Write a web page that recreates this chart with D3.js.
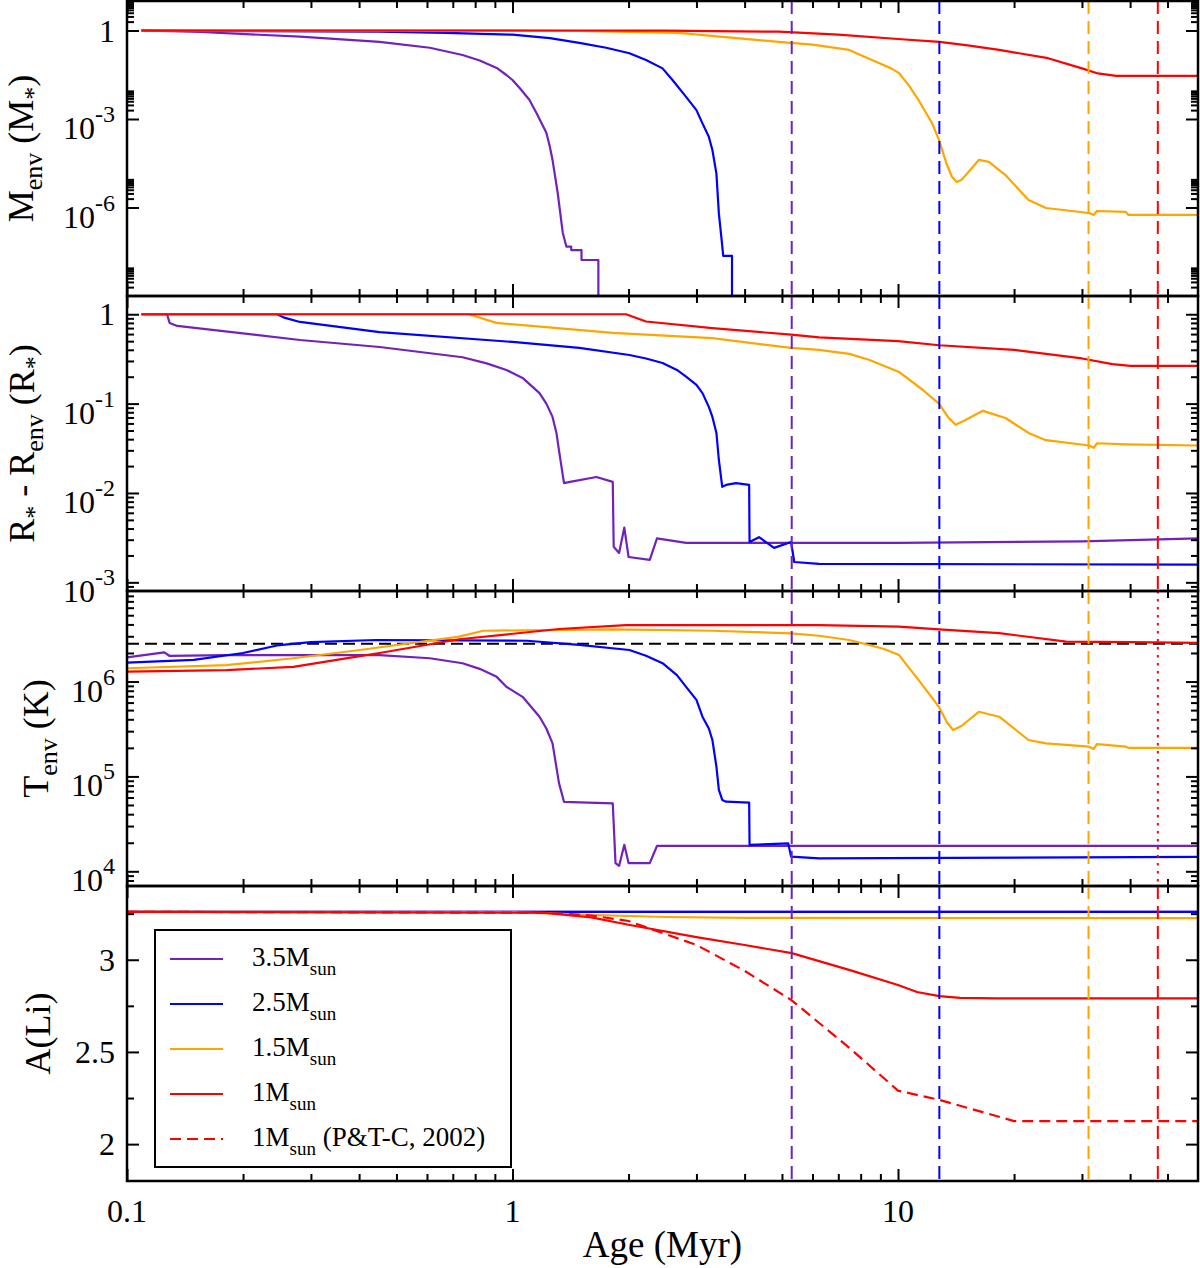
<!DOCTYPE html>
<html>
<head>
<meta charset="utf-8">
<script src="https://cdn.jsdelivr.net/npm/d3@7"></script>
<style>
    body { margin: 0; background: #fff; }
    text { font-family: 'Liberation Serif', 'Times New Roman', serif; fill: #000; }
</style>
</head>
<body>
<svg id="chart"></svg>
<script>
// series order: 3.5, 2.5, 1.5, 1 Msun
const colors = ['#7221bc', '#0000ff', '#ffa500', '#ff0000']
const legendLabels = ['3.5M', '2.5M', '1.5M', '1M', '1M']

// [age (Myr), value]
// panel 1: M_env (M*)
const menv35 = [[0.109,1],[0.155,0.89],[0.281,0.62],[0.452,0.41],[0.61,0.26],[0.742,0.148],[0.822,0.096],[0.91,0.054],[0.964,0.031],[1.0,0.021],[1.045,0.011],[1.107,4.4e-3],[1.16,1.4e-3],[1.224,3.4e-4],[1.25,1.15e-4],[1.27,4.1e-5],[1.31,3.1e-6],[1.35,1.4e-7],[1.38,4.7e-8],[1.42,4.7e-8],[1.42,3.6e-8],[1.51,3.6e-8],[1.51,1.66e-8],[1.67,1.66e-8],[1.67,1e-12]]
const menv25 = [[0.109,1],[0.2,0.95],[0.452,0.91],[0.67,0.83],[1.0,0.72],[1.25,0.55],[1.49,0.38],[1.75,0.26],[2.01,0.17],[2.22,0.1],[2.45,0.052],[2.6,0.021],[2.82,5.6e-3],[3.0,2.0e-3],[3.11,7.1e-4],[3.23,2.5e-4],[3.30,8.9e-5],[3.38,1.4e-5],[3.43,6.3e-7],[3.50,5e-8],[3.52,2.3e-8],[3.71,2.3e-8],[3.71,1e-12]]
const menv15 = [[0.109,1],[1.0,0.99],[1.49,0.96],[2.7,0.83],[4.9,0.41],[6.0,0.33],[7.47,0.22],[8.41,0.11],[9.2,0.066],[9.6,0.052],[10.06,0.036],[10.7,0.013],[11.3,4.4e-3],[12.25,7.3e-4],[12.77,1.95e-4],[13.4,2.75e-5],[13.8,1.1e-5],[14.2,7.3e-6],[14.6,8.5e-6],[15.0,1.26e-5],[16.2,4.1e-5],[17.2,3.5e-5],[19.0,1.26e-5],[21.8,1.8e-6],[24.2,9.6e-7],[31.3,6.5e-7],[32.2,5.6e-7],[32.8,7.6e-7],[39.0,7.1e-7],[39.6,5.6e-7],[60,5.6e-7]]
const menv10 = [[0.109,1],[1.5,1],[2.5,0.99],[4.9,0.91],[7,0.72],[10,0.515],[12.8,0.41],[15,0.32],[18.3,0.22],[24.5,0.115],[30,0.052],[33,0.035],[36.8,0.029],[60,0.029]]

// panel 2: R* - R_env (R*)
const r35 = [[0.109,1],[0.127,1],[0.129,0.8],[0.135,0.74],[0.281,0.515],[0.452,0.43],[0.742,0.33],[0.857,0.282],[0.964,0.238],[1.062,0.194],[1.175,0.131],[1.224,0.1],[1.27,0.071],[1.3,0.047],[1.32,0.030],[1.36,0.0129],[1.41,0.0133],[1.65,0.0151],[1.82,0.0133],[1.83,2.5e-3],[1.89,2.13e-3],[1.95,4.1e-3],[2.0,1.92e-3],[2.27,1.78e-3],[2.37,3.1e-3],[2.82,2.76e-3],[10,2.76e-3],[30,2.87e-3],[60,3.1e-3]]
const r25 = [[0.109,1],[0.245,1],[0.257,0.91],[0.281,0.82],[0.452,0.63],[1.0,0.49],[1.49,0.42],[2.01,0.35],[2.22,0.32],[2.45,0.285],[2.67,0.238],[2.82,0.2],[3.0,0.162],[3.11,0.131],[3.23,0.092],[3.30,0.071],[3.38,0.047],[3.43,0.0234],[3.50,0.0117],[3.58,0.0123],[3.80,0.0129],[4.11,0.0123],[4.12,2.83e-3],[4.36,3.2e-3],[4.77,2.43e-3],[5.28,2.83e-3],[5.38,1.69e-3],[6.24,1.61e-3],[60,1.58e-3]]
const r15 = [[0.109,1],[0.77,1],[0.908,0.8],[1.82,0.62],[3.3,0.54],[5.28,0.42],[6.24,0.4],[7.47,0.36],[8.41,0.31],[10.06,0.226],[11.6,0.142],[12.77,0.1],[13.5,0.07],[14.1,0.058],[14.8,0.064],[16.6,0.083],[19,0.069],[21.8,0.047],[24.2,0.039],[31.3,0.034],[32.2,0.032],[32.8,0.036],[39,0.035],[60,0.034]]
const r10 = [[0.109,1],[1.97,1],[2.22,0.83],[3.3,0.7],[5.28,0.59],[6.24,0.55],[10,0.5],[12.8,0.45],[20,0.4],[30,0.32],[36,0.277],[40,0.265],[60,0.264]]

// panel 3: T_env (K)
const t35 = [[0.1,1.8e6],[0.125,2.03e6],[0.129,1.86e6],[0.181,1.9e6],[0.452,1.9e6],[0.61,1.76e6],[0.742,1.56e6],[0.822,1.36e6],[0.91,1.12e6],[0.964,8.8e5],[1.062,6.9e5],[1.175,4.26e5],[1.224,3.2e5],[1.27,2.23e5],[1.32,8.5e4],[1.36,5.4e4],[1.82,5.2e4],[1.85,1.22e4],[1.89,1.14e4],[1.95,1.9e4],[2.0,1.22e4],[2.27,1.22e4],[2.37,1.85e4],[60,1.85e4]]
const t25 = [[0.1,1.58e6],[0.149,1.69e6],[0.2,2.0e6],[0.245,2.4e6],[0.3,2.6e6],[0.443,2.74e6],[1.09,2.69e6],[1.49,2.43e6],[2.01,2.15e6],[2.22,1.87e6],[2.45,1.56e6],[2.67,1.17e6],[2.82,8.8e5],[3.0,6.4e5],[3.11,4.26e5],[3.23,3.2e5],[3.3,2.42e5],[3.38,1.27e5],[3.43,7.2e4],[3.5,5.65e4],[3.58,5.42e4],[4.11,5.3e4],[4.12,1.9e4],[5.19,1.97e4],[5.28,1.43e4],[6.24,1.37e4],[60,1.42e4]]
const t15 = [[0.1,1.38e6],[0.181,1.49e6],[0.27,1.76e6],[0.402,2.15e6],[0.727,2.97e6],[0.84,3.43e6],[1.82,3.55e6],[3.3,3.43e6],[5.28,3.22e6],[6.24,3.04e6],[7.47,2.74e6],[8.41,2.43e6],[9.2,2.2e6],[10.06,1.9e6],[11.3,1.04e6],[12.77,5.4e5],[13.4,3.7e5],[13.9,3.08e5],[14.6,3.4e5],[16.2,4.8e5],[18.3,4.26e5],[21.8,2.42e5],[24.2,2.23e5],[31.3,2.06e5],[32.2,1.95e5],[32.8,2.19e5],[39,2.06e5],[39.6,2.0e5],[60,2.0e5]]
const t10 = [[0.1,1.27e6],[0.181,1.32e6],[0.27,1.43e6],[0.402,1.85e6],[0.452,2.0e6],[0.727,2.79e6],[1.32,3.58e6],[1.97,3.94e6],[6.24,3.94e6],[10.06,3.79e6],[12.77,3.55e6],[18.3,3.24e6],[27.3,2.63e6],[40,2.6e6],[60,2.56e6]]
const liBurnT = 2.5e6

// panel 4: A(Li)
const li35 = [[0.1,3.26],[60,3.26]]
const li25 = [[0.1,3.26],[60,3.26]]
const li15 = [[0.1,3.26],[1.0,3.258],[1.5,3.245],[2.5,3.232],[4,3.227],[60,3.226]]
const li10 = [[0.1,3.26],[1.2,3.255],[1.6,3.23],[2,3.19],[3,3.123],[4,3.08],[5.3,3.036],[7.5,2.944],[10,2.863],[11.2,2.825],[12.8,2.803],[14.5,2.793],[18,2.79],[60,2.79]]
const liPTC = [[0.1,3.26],[1.2,3.255],[1.6,3.24],[2,3.21],[3,3.08],[4,2.94],[5.3,2.78],[7.5,2.52],[10,2.29],[12.8,2.24],[20,2.125],[60,2.125]]

// vertical marker ages
const markerAges = [5.3, 12.8, 31.2, 47.2]

// ticks
const ageTicks = [0.1, 1, 10]
const ageDecades = [0.1, 1, 10]
const menvTicks = [1, 1e-3, 1e-6]
const menvDecades = [1e-9, 1e-6, 1e-3, 1]
const rTicks = [1, 1e-1, 1e-2, 1e-3]
const rDecades = [1e-4, 1e-3, 1e-2, 1e-1, 1]
const tTicks = [1e4, 1e5, 1e6]
const tDecades = [1e3, 1e4, 1e5, 1e6]
const liTicks = [2, 2.5, 3]
const liMinor = [2.25, 2.75, 3.25]

const width = 1200,
    height = 1268
const plotLeft = 127,
    plotRight = 1198,
    plotTop = 1,
    panelH = 295

const svg = d3.select('#chart').attr('width', width).attr('height', height)

const x = d3.scaleLog().domain([0.1, 60]).range([plotLeft, plotRight])

function minorsOf(decades, domain) {
    const out = []
    decades.forEach((d) => {
        for (let k = 2; k <= 9; k++) out.push(k * d)
    })
    return out.filter((v) => v > domain[0] * 1.0001 && v < domain[1] * 0.9999)
}

const panels = [
    {
        y: d3.scaleLog().domain([1e-9, 10]),
        series: [menv35, menv25, menv15, menv10],
        major: menvTicks,
        minor: minorsOf(menvDecades, [1e-9, 10]),
        titleX: 33,
        title: [['M', 0], ['env', 1], [' (M', 0], ['*', 1], [')', 0]],
    },
    {
        y: d3.scaleLog().domain([8e-4, 1.6]),
        series: [r35, r25, r15, r10],
        major: rTicks,
        minor: minorsOf(rDecades, [8e-4, 1.6]),
        titleX: 34,
        title: [['R', 0], ['*', 1], [' - R', 0], ['env', 1], [' (R', 0], ['*', 1], [')', 0]],
    },
    {
        y: d3.scaleLog().domain([7e3, 9e6]),
        series: [t35, t25, t15, t10],
        major: tTicks,
        minor: minorsOf(tDecades, [7e3, 9e6]),
        titleX: 48,
        title: [['T', 0], ['env', 1], [' (K)', 0]],
    },
    {
        y: d3.scaleLinear().domain([1.8, 3.4]),
        series: [li35, li25, li15, li10],
        major: liTicks,
        minor: liMinor,
        titleX: 50,
        title: [['A(Li)', 0]],
        linear: true,
    },
]

const line = (y) =>
    d3
        .line()
        .x((d) => x(d[0]))
        .y((d) => y(d[1]))

function ticks(g, axis, values, size) {
    g.call(axis.tickValues(values).tickSize(size).tickFormat(''))
    g.select('.domain').remove()
    g.selectAll('line').attr('stroke', '#000').attr('stroke-width', 2)
}

panels.forEach((p, i) => {
    const y0 = plotTop + i * panelH,
        y1 = y0 + panelH
    p.y.range([y1, y0])
    const g = svg.append('g')

    g.append('clipPath')
        .attr('id', 'clip' + i)
        .append('rect')
        .attr('x', plotLeft)
        .attr('y', y0)
        .attr('width', plotRight - plotLeft)
        .attr('height', panelH)

    const plot = g.append('g').attr('clip-path', `url(#clip${i})`)

    // horizontal Li-burning line in T_env panel
    if (i === 2) {
        plot.append('line')
            .attr('x1', plotLeft)
            .attr('x2', plotRight)
            .attr('y1', p.y(liBurnT))
            .attr('y2', p.y(liBurnT))
            .attr('stroke', '#000')
            .attr('stroke-width', 2)
            .attr('stroke-dasharray', '12,6')
    }

    p.series.forEach((s, j) => {
        plot.append('path')
            .attr('d', line(p.y)(s))
            .attr('fill', 'none')
            .attr('stroke', colors[j])
            .attr('stroke-width', 2.2)
            .attr('stroke-linejoin', 'round')
    })
    if (i === 3) {
        plot.append('path')
            .attr('d', line(p.y)(liPTC))
            .attr('fill', 'none')
            .attr('stroke', colors[3])
            .attr('stroke-width', 2.2)
            .attr('stroke-dasharray', '11,6')
    }

    // vertical markers (red one dotted in T_env panel)
    markerAges.forEach((a, j) => {
        plot.append('line')
            .attr('x1', x(a))
            .attr('x2', x(a))
            .attr('y1', y0)
            .attr('y2', y1)
            .attr('stroke', colors[j])
            .attr('stroke-width', 2)
            .attr('stroke-dasharray', i === 2 && j === 3 ? '2.5,5.5' : '13,7')
    })

    // ticks, all inward
    const xMinor = minorsOf(ageDecades, [0.1, 60])
    ticks(g.append('g').attr('transform', `translate(0,${y1})`), d3.axisBottom(x), ageTicks, -12)
    ticks(g.append('g').attr('transform', `translate(0,${y1})`), d3.axisBottom(x), xMinor, -7)
    ticks(g.append('g').attr('transform', `translate(0,${y0})`), d3.axisTop(x), ageTicks, -12)
    ticks(g.append('g').attr('transform', `translate(0,${y0})`), d3.axisTop(x), xMinor, -7)
    ticks(g.append('g').attr('transform', `translate(${plotLeft},0)`), d3.axisLeft(p.y), p.major, -12)
    ticks(g.append('g').attr('transform', `translate(${plotLeft},0)`), d3.axisLeft(p.y), p.minor, -7)
    ticks(g.append('g').attr('transform', `translate(${plotRight},0)`), d3.axisRight(p.y), p.major, -12)
    ticks(g.append('g').attr('transform', `translate(${plotRight},0)`), d3.axisRight(p.y), p.minor, -7)

    g.append('rect')
        .attr('x', plotLeft)
        .attr('y', y0)
        .attr('width', plotRight - plotLeft)
        .attr('height', panelH)
        .attr('fill', 'none')
        .attr('stroke', '#000')
        .attr('stroke-width', 2.5)

    // y tick labels
    p.major.forEach((v) => {
        const t = g.append('text').attr('x', 115).attr('text-anchor', 'end').attr('font-size', 32)
        if (p.linear || v === 1) {
            t.attr('y', p.y(v) + 11).text(v)
        } else {
            t.attr('y', p.y(v) + 20).text('10')
            t.append('tspan')
                .attr('dy', -17)
                .attr('font-size', 24)
                .text(Math.round(Math.log10(v)))
        }
    })

    // y title
    const yt = g.append('text')
        .attr('transform', `translate(${p.titleX},${(y0 + y1) / 2}) rotate(-90)`)
        .attr('text-anchor', 'middle')
        .attr('font-size', 36)
    let shifted = false
    p.title.forEach(([s, sub]) => {
        const ts = yt.append('tspan').text(s)
        if (sub && !shifted) ts.attr('dy', 9).attr('font-size', 26)
        else if (sub) ts.attr('font-size', 26)
        else if (shifted) ts.attr('dy', -9)
        shifted = !!sub
    })
})

// x labels
const xl = svg.append('g')
ageTicks.forEach((v) => {
    xl.append('text')
        .attr('x', x(v))
        .attr('y', 1222)
        .attr('text-anchor', 'middle')
        .attr('font-size', 32)
        .text(v)
})
xl.append('text')
    .attr('x', (plotLeft + plotRight) / 2)
    .attr('y', 1257)
    .attr('text-anchor', 'middle')
    .attr('font-size', 37)
    .text('Age (Myr)')

// legend
const lg = svg.append('g')
lg.append('rect')
    .attr('x', 155)
    .attr('y', 930)
    .attr('width', 356)
    .attr('height', 237)
    .attr('fill', '#fff')
    .attr('stroke', '#000')
    .attr('stroke-width', 2)
legendLabels.forEach((lab, i) => {
    const ly = 959 + i * 45
    lg.append('line')
        .attr('x1', 170)
        .attr('x2', 223)
        .attr('y1', ly)
        .attr('y2', ly)
        .attr('stroke', colors[Math.min(i, 3)])
        .attr('stroke-width', 2.2)
        .attr('stroke-dasharray', i === 4 ? '11,6' : null)
    const t = lg.append('text').attr('x', 252).attr('y', ly + 7).attr('font-size', 27)
    t.append('tspan').text(lab)
    t.append('tspan').attr('dy', 9).attr('font-size', 19).text('sun')
    if (i === 4) t.append('tspan').attr('dy', -9).text(' (P&T-C, 2002)')
})
</script>
</body>
</html>
